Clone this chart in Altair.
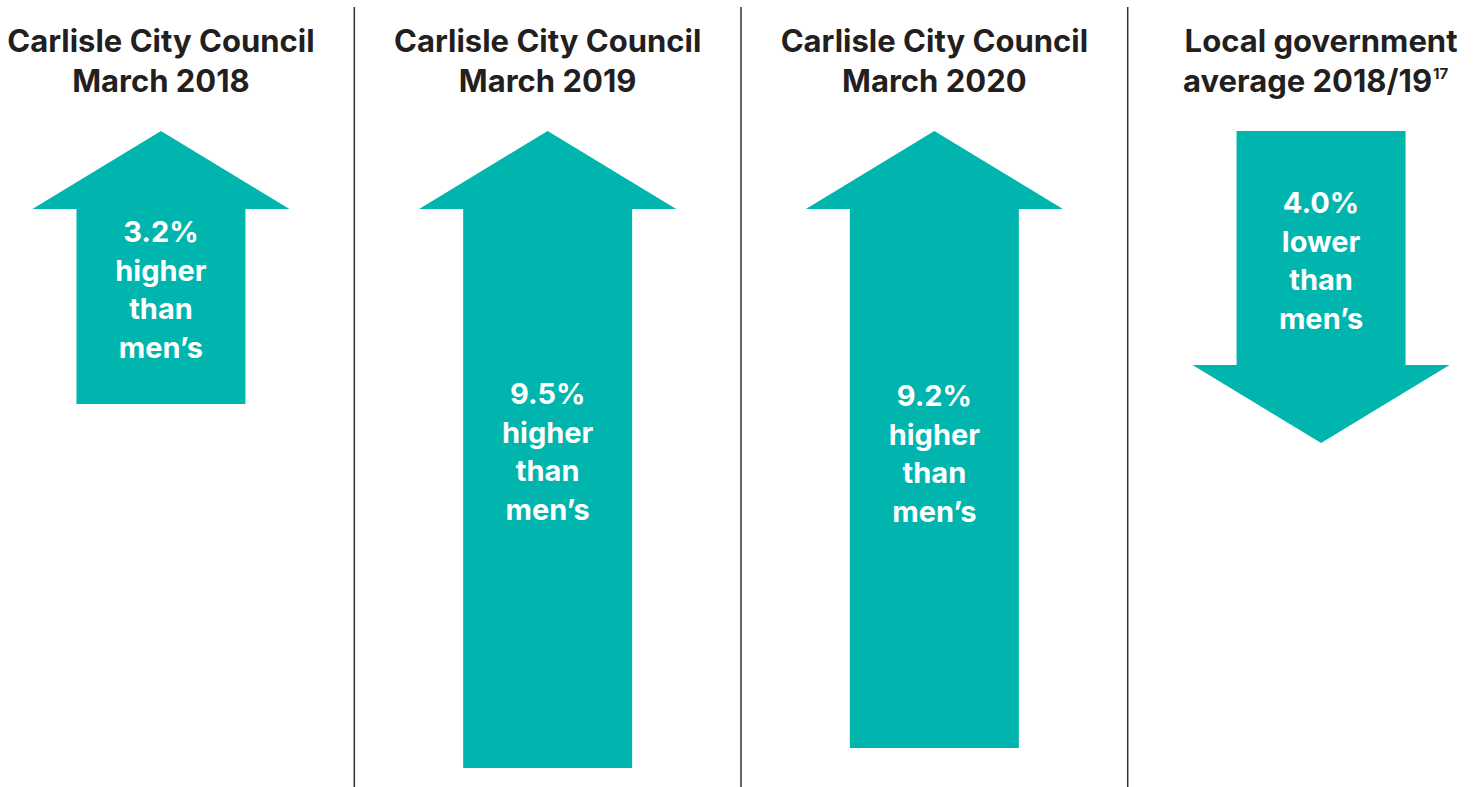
import altair as alt
import pandas as pd

# ---- data ----
title_line1 = ["Carlisle City Council", "Carlisle City Council", "Carlisle City Council", "Local government"]
title_line2 = ["March 2018", "March 2019", "March 2020", "average 2018/19"]
footnote = "17"
gap_values = [3.2, 9.5, 9.2, -4.0]          # % difference vs men's (negative = lower)
arrow_length = [273, 637, 617, 312]         # drawn arrow length (chart units)
label_first = [102, 264, 266, 73]           # first label line along the arrow

# ---- styling constants ----
TEAL = "#00b5ad"
INK = "#231f20"
FONT = "Inter"
SHAFT_HALF = 0.2185
HEAD_DEPTH = 78
HEAD_WIDTH_PX = 257
HALF_H = HEAD_DEPTH / HEAD_WIDTH_PX
UP_PATH = f"M -1 {HALF_H:.4f} L 0 {-HALF_H:.4f} L 1 {HALF_H:.4f} Z"
DOWN_PATH = f"M -1 {-HALF_H:.4f} L 0 {HALF_H:.4f} L 1 {-HALF_H:.4f} Z"

xs = alt.Scale(domain=[-0.4162, 3.411], nice=False, zero=False)
ys = alt.Scale(domain=[-131, 656], reverse=True, nice=False, zero=False)

shaft_rows, head_rows, label_rows, title_rows = [], [], [], []
for i, (v, L) in enumerate(zip(gap_values, arrow_length)):
    up = v > 0
    if up:
        s_top, s_bot, h_mid = HEAD_DEPTH, L, HEAD_DEPTH / 2
    else:
        s_top, s_bot, h_mid = 0, L - HEAD_DEPTH, L - HEAD_DEPTH / 2
    shaft_rows.append(dict(arrow=i, x=i - SHAFT_HALF, x2=i + SHAFT_HALF, y=s_top, y2=s_bot))
    head_rows.append(dict(arrow=i, y=h_mid, dir="up" if up else "down"))
    word = "higher" if up else "lower"
    label_rows.append(dict(arrow=i, y=label_first[i],
                           text=f"{abs(v):.1f}%\n{word}\nthan\nmen\u2019s"))
    title_rows.append(dict(arrow=i, l1=title_line1[i], l2=title_line2[i]))

shaft_df = pd.DataFrame(shaft_rows)
head_df = pd.DataFrame(head_rows)
label_df = pd.DataFrame(label_rows)
title_df = pd.DataFrame(title_rows)
div_df = pd.DataFrame(dict(x=[0.5, 1.5, 2.5], y=[-124] * 3, y2=[656] * 3))

X = lambda f="x": alt.X(f"{f}:Q", scale=xs, axis=None)
Y = lambda f="y": alt.Y(f"{f}:Q", scale=ys, axis=None)

dividers = alt.Chart(div_df).mark_rule(color="#333333", strokeWidth=1.5).encode(
    x=X(), y=Y(), y2="y2:Q")

shafts = alt.Chart(shaft_df).mark_rect(color=TEAL).encode(
    x=X(), x2="x2:Q", y=Y(), y2="y2:Q")

heads = alt.Chart(head_df).mark_point(
    filled=True, color=TEAL, opacity=1, size=HEAD_WIDTH_PX ** 2, strokeWidth=0
).encode(
    x=X("arrow"), y=Y(),
    shape=alt.Shape("dir:N", scale=alt.Scale(domain=["up", "down"], range=[UP_PATH, DOWN_PATH]),
                    legend=None),
)

labels = alt.Chart(label_df).mark_text(
    font=FONT, fontSize=29, fontWeight="bold", color="white",
    lineBreak="\n", lineHeight=38.5, baseline="middle", align="center"
).encode(x=X("arrow"), y=Y(), text="text:N")

t1 = alt.Chart(title_df).mark_text(
    font=FONT, fontSize=31, fontWeight="bold", color=INK, baseline="middle", align="center"
).encode(x=X("arrow"), y=alt.value(43), text="l1:N")

t2 = alt.Chart(title_df[title_df.arrow < 3]).mark_text(
    font=FONT, fontSize=31, fontWeight="bold", color=INK, baseline="middle", align="center"
).encode(x=X("arrow"), y=alt.value(83), text="l2:N")

t2_last = alt.Chart(title_df[title_df.arrow == 3]).mark_text(
    font=FONT, fontSize=31, fontWeight="bold", color=INK, baseline="middle", align="right", dx=111
).encode(x=X("arrow"), y=alt.value(83), text="l2:N")

sup = alt.Chart(pd.DataFrame(dict(arrow=[3], text=[footnote]))).mark_text(
    font=FONT, fontSize=15, fontWeight="bold", color=INK, baseline="middle", align="left", dx=112
).encode(x=X("arrow"), y=alt.value(74), text="text:N")

chart = alt.layer(dividers, shafts, heads, labels, t1, t2, t2_last, sup).properties(
    width=1480, height=787, padding=0, autosize="none", background="white"
).configure_view(strokeWidth=0)

chart.save("out.html", embed_options={"renderer": "svg", "actions": False})
